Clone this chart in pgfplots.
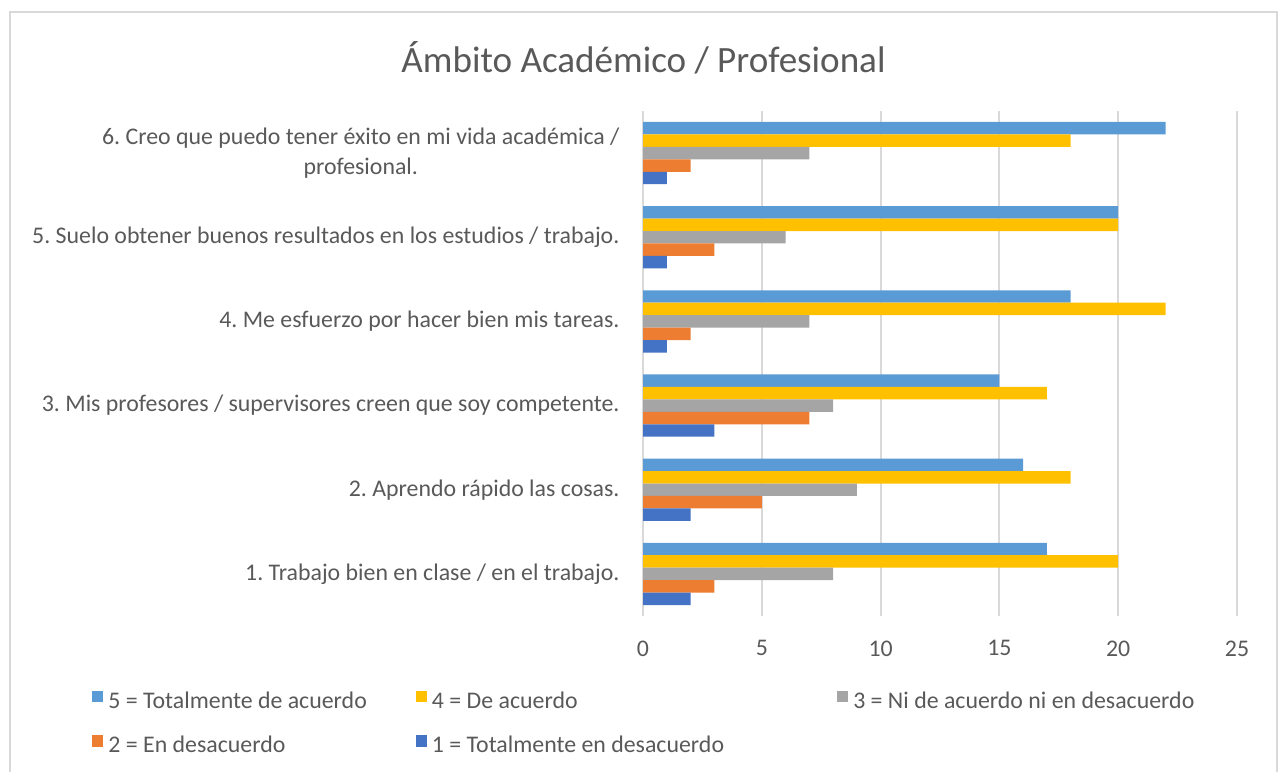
\documentclass[border=0pt]{standalone}
\usepackage{fontspec}
\setmainfont{Carlito}
\usepackage{pgfplots}
\pgfplotsset{compat=1.18}
\frenchspacing
\definecolor{cfive}{HTML}{5B9BD5}
\definecolor{cfour}{HTML}{FFC000}
\definecolor{cthree}{HTML}{A5A5A5}
\definecolor{ctwo}{HTML}{ED7D31}
\definecolor{cone}{HTML}{4472C4}
\definecolor{txt}{HTML}{595959}
\definecolor{grd}{HTML}{D9D9D9}
\begin{document}
\frenchspacing
\begin{tikzpicture}
\useasboundingbox (0pt,0pt) rectangle (482.69pt,-291.35pt);
\draw[grd, line width=0.75pt] (3.77pt,-300pt) -- (3.77pt,-4.53pt) -- (481.94pt,-4.53pt) -- (481.94pt,-300pt);
\node[anchor=base, inner sep=0pt, text=txt, font=\fontsize{14pt}{17pt}\selectfont] at (242.86pt,-27.2pt) {Ámbito Académico / Profesional};
\begin{axis}[
  at={(242.67pt,-232.48pt)}, anchor=south west,
  scale only axis, width=224.18pt, height=190.59pt,
  xmin=0, xmax=25, ymin=0.5, ymax=6.5,
  enlargelimits=false,
  xbar, bar width=0.148,
  xtick={0,5,10,15,20,25},
  ytick={1,2,3,4,5,6},
  yticklabels={1. Trabajo bien en clase / en el trabajo.,
    2. Aprendo rápido las cosas.,
    3. Mis profesores / supervisores creen que soy competente.,
    4. Me esfuerzo por hacer bien mis tareas.,
    5. Suelo obtener buenos resultados en los estudios / trabajo.,
    {6. Creo que puedo tener éxito en mi vida académica /\\profesional.}},
  /pgf/number format/assume math mode=true,
  axis line style={draw=none},
  major tick length=0pt,
  tick style={draw=none},
  xmajorgrids, ymajorgrids=false,
  grid style={grd, line width=0.75pt},
  ticklabel style={font=\fontsize{9pt}{11pt}\selectfont\frenchspacing, text=txt},
  xticklabel style={anchor=north, inner sep=0pt, yshift=-9.06pt},
  yticklabel style={anchor=east, inner sep=0pt, xshift=-8.68pt, align=center},
  legend style={at={(-0.92761,-0.1481)}, anchor=north west, draw=none, fill=none,
    inner sep=0pt, outer sep=0pt,
    font=\fontsize{9pt}{11pt}\selectfont, text=txt,
    nodes={inner sep=0pt, text height=6.5pt, text depth=2pt},
    row sep=8.1pt, column sep=0pt,
    /tikz/every odd column/.append style={column sep=1.9pt}},
  legend columns=3,
  legend cell align=left,
  legend image code/.code={\fill[#1] (0pt,0pt) rectangle (4.3pt,4.4pt);},
]
\addplot[fill=cfive, draw=none, bar shift=0.296] coordinates {(17,1) (16,2) (15,3) (18,4) (20,5) (22,6)};
\addplot[fill=cfour, draw=none, bar shift=0.148] coordinates {(20,1) (18,2) (17,3) (22,4) (20,5) (18,6)};
\addplot[fill=cthree, draw=none, bar shift=0] coordinates {(8,1) (9,2) (8,3) (7,4) (6,5) (7,6)};
\addplot[fill=ctwo, draw=none, bar shift=-0.148] coordinates {(3,1) (5,2) (7,3) (2,4) (3,5) (2,6)};
\addplot[fill=cone, draw=none, bar shift=-0.296] coordinates {(2,1) (2,2) (3,3) (1,4) (1,5) (1,6)};
\legend{\makebox[115.9pt][l]{5 = Totalmente de acuerdo},
  \makebox[152.8pt][l]{4 = De acuerdo},
  3 = Ni de acuerdo ni en desacuerdo,
  2 = En desacuerdo,
  1 = Totalmente en desacuerdo}
\end{axis}
\end{tikzpicture}
\end{document}
